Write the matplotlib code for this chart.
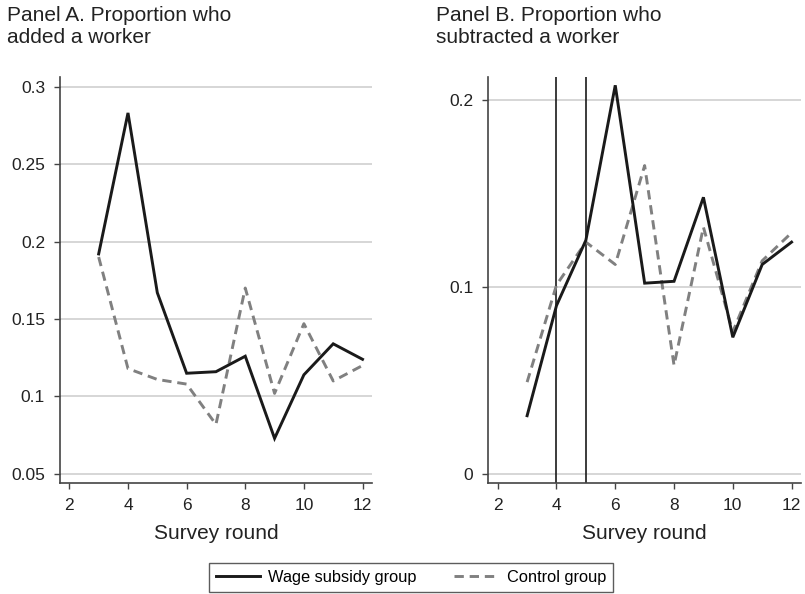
import matplotlib
matplotlib.use("Agg")
import matplotlib.pyplot as plt
from matplotlib.lines import Line2D

plt.rcParams['font.family'] = ['Liberation Sans', 'DejaVu Sans']

rounds = [3, 4, 5, 6, 7, 8, 9, 10, 11, 12]
added_subsidy = [0.192, 0.283, 0.167, 0.115, 0.116, 0.126, 0.073, 0.114, 0.134, 0.124]
added_control = [0.190, 0.118, 0.111, 0.108, 0.082, 0.170, 0.102, 0.147, 0.110, 0.120]
sub_subsidy = [0.031, 0.090, 0.125, 0.208, 0.102, 0.103, 0.148, 0.073, 0.112, 0.124]
sub_control = [0.049, 0.101, 0.124, 0.112, 0.165, 0.058, 0.132, 0.076, 0.114, 0.129]
vlines_b = [4, 5]

xticks = [2, 4, 6, 8, 10, 12]
yticks_a = [0.05, 0.1, 0.15, 0.2, 0.25, 0.3]
yticklabels_a = ['0.05', '0.1', '0.15', '0.2', '0.25', '0.3']
yticks_b = [0, 0.1, 0.2]
yticklabels_b = ['0', '0.1', '0.2']

fig = plt.figure(figsize=(8.05, 5.94), dpi=100)
axA = fig.add_axes([0.0745, 0.1864, 0.3875, 0.6835])
axB = fig.add_axes([0.6066, 0.1864, 0.3884, 0.6835])

solid_kw = dict(color='#1a1a1a', lw=2.1, solid_joinstyle='miter')
dash_kw = dict(color='#808080', lw=2.1, ls=(0, (3.2, 2.0)))

def style(ax, yticks, ylabels, ylim):
    ax.set_xlim(1.68, 12.32)
    ax.set_ylim(*ylim)
    ax.set_xticks(xticks)
    ax.set_xticklabels([str(t) for t in xticks])
    ax.set_yticks(yticks)
    ax.set_yticklabels(ylabels)
    for s in ['top', 'right']:
        ax.spines[s].set_visible(False)
    for s in ['left', 'bottom']:
        ax.spines[s].set_color('#444444')
        ax.spines[s].set_linewidth(1.2)
    ax.tick_params(axis='both', direction='out', length=4.2, width=1.0,
                   color='#444444', labelsize=12.5, labelcolor='#222222', pad=6.5)
    ax.grid(axis='y', color='#d3d3d3', lw=1.3)
    ax.set_axisbelow(True)
    ax.set_xlabel('Survey round', fontsize=15, color='#222222', labelpad=8)

style(axA, yticks_a, yticklabels_a, (0.044, 0.306))
axA.plot(rounds, added_control, **dash_kw)
axA.plot(rounds, added_subsidy, **solid_kw)

style(axB, yticks_b, yticklabels_b, (-0.0052, 0.2123))
for v in vlines_b:
    axB.axvline(v, color='#1a1a1a', lw=1.2)
axB.plot(rounds, sub_control, **dash_kw)
axB.plot(rounds, sub_subsidy, **solid_kw)

fig.text(0.009, 0.99, 'Panel A. Proportion who\nadded a worker', ha='left', va='top',
         fontsize=15, color='#222222', linespacing=1.2)
fig.text(0.5416, 0.99, 'Panel B. Proportion who\nsubtracted a worker', ha='left', va='top',
         fontsize=15, color='#222222', linespacing=1.2)

handles = [Line2D([], [], **solid_kw), Line2D([], [], **dash_kw)]
leg = fig.legend(handles, ['Wage subsidy group', 'Control group'], ncol=2,
                 loc='center', bbox_to_anchor=(0.5103, 0.0278), frameon=True,
                 fancybox=False, fontsize=11.8, handlelength=2.7, columnspacing=2.3,
                 borderpad=0.4, handletextpad=0.5, borderaxespad=0)
leg.get_frame().set_edgecolor('#333333')
leg.get_frame().set_linewidth(1.0)

fig.savefig('out.png', dpi=100)
